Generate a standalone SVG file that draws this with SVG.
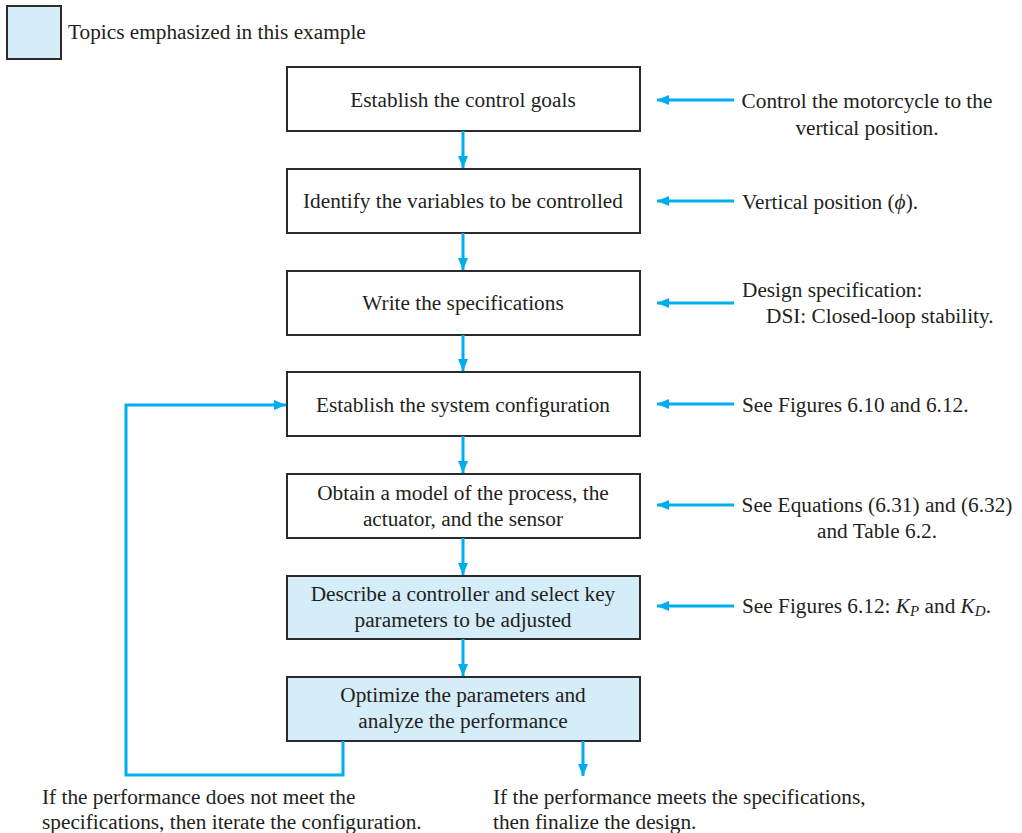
<svg xmlns="http://www.w3.org/2000/svg" width="1022" height="833" viewBox="0 0 1022 833">
<defs>
<marker id="ah" markerWidth="12" markerHeight="10" refX="12" refY="5" orient="auto" markerUnits="userSpaceOnUse">
<path d="M0,0 L12,5 L0,10 Z" fill="#00AEEF"/>
</marker>
</defs>
<style>
text{font-family:"Liberation Serif","Times New Roman",serif;font-size:21.3px;fill:#231F20}
.box{fill:#fff;stroke:#2b2b2b;stroke-width:2}
.hl{fill:#D5ECF9;stroke:#2b2b2b;stroke-width:2}
.c{text-anchor:middle}
.ln{fill:none;stroke:#00AEEF;stroke-width:3}
.it{font-style:italic}
</style>
<rect width="1022" height="833" fill="#fff"/>
<g id="legend">
<rect class="hl" x="7" y="6" width="54" height="53"/>
<text x="68" y="39">Topics emphasized in this example</text>
</g>
<g id="n1"><rect class="box" x="287" y="67" width="353" height="64"/><text class="c" x="463" y="107">Establish the control goals</text></g>
<g id="n2"><rect class="box" x="287" y="169" width="353" height="64"/><text class="c" x="463" y="208">Identify the variables to be controlled</text></g>
<g id="n3"><rect class="box" x="287" y="271" width="353" height="64"/><text class="c" x="463" y="310">Write the specifications</text></g>
<g id="n4"><rect class="box" x="287" y="372" width="353" height="64"/><text class="c" x="463" y="412">Establish the system configuration</text></g>
<g id="n5"><rect class="box" x="287" y="474" width="353" height="64"/><text class="c" x="463" y="500">Obtain a model of the process, the</text><text class="c" x="463" y="526">actuator, and the sensor</text></g>
<g id="n6"><rect class="hl" x="287" y="576" width="353" height="63"/><text class="c" x="463" y="601">Describe a controller and select key</text><text class="c" x="463" y="627">parameters to be adjusted</text></g>
<g id="n7"><rect class="hl" x="287" y="677" width="353" height="64"/><text class="c" x="463" y="702">Optimize the parameters and</text><text class="c" x="463" y="728">analyze the performance</text></g>
<g id="notes">
<text class="c" x="867" y="108">Control the motorcycle to the</text>
<text class="c" x="867" y="135">vertical position.</text>
<text x="742" y="209">Vertical position (<tspan class="it">ϕ</tspan>).</text>
<text x="742" y="297">Design specification:</text>
<text x="766" y="323">DSI: Closed-loop stability.</text>
<text x="742" y="412">See Figures 6.10 and 6.12.</text>
<text class="c" x="877" y="512">See Equations (6.31) and (6.32)</text>
<text class="c" x="877" y="538">and Table 6.2.</text>
<text x="742" y="613">See Figures 6.12: <tspan class="it">K</tspan><tspan class="it" font-size="15" dy="3">P</tspan><tspan dy="-3"> and </tspan><tspan class="it">K</tspan><tspan class="it" font-size="15" dy="3">D</tspan><tspan dy="-3">.</tspan></text>
<text x="42" y="804">If the performance does not meet the</text>
<text x="42" y="829">specifications, then iterate the configuration.</text>
<text x="493" y="804">If the performance meets the specifications,</text>
<text x="493" y="829">then finalize the design.</text>
</g>
<g id="connectors">
<line class="ln" x1="463" y1="131" x2="463" y2="168" marker-end="url(#ah)"/>
<line class="ln" x1="463" y1="233" x2="463" y2="270" marker-end="url(#ah)"/>
<line class="ln" x1="463" y1="335" x2="463" y2="371" marker-end="url(#ah)"/>
<line class="ln" x1="463" y1="436" x2="463" y2="473" marker-end="url(#ah)"/>
<line class="ln" x1="463" y1="538" x2="463" y2="575" marker-end="url(#ah)"/>
<line class="ln" x1="463" y1="639" x2="463" y2="676" marker-end="url(#ah)"/>
<line class="ln" x1="734" y1="100" x2="657" y2="100" marker-end="url(#ah)"/>
<line class="ln" x1="734" y1="201" x2="657" y2="201" marker-end="url(#ah)"/>
<line class="ln" x1="734" y1="303" x2="657" y2="303" marker-end="url(#ah)"/>
<line class="ln" x1="734" y1="404" x2="657" y2="404" marker-end="url(#ah)"/>
<line class="ln" x1="734" y1="505" x2="657" y2="505" marker-end="url(#ah)"/>
<line class="ln" x1="734" y1="606" x2="657" y2="606" marker-end="url(#ah)"/>
<polyline class="ln" points="343,741 343,775 126,775 126,405 286,405" marker-end="url(#ah)"/>
<line class="ln" x1="583" y1="741" x2="583" y2="776" marker-end="url(#ah)"/>
</g>
</svg>
